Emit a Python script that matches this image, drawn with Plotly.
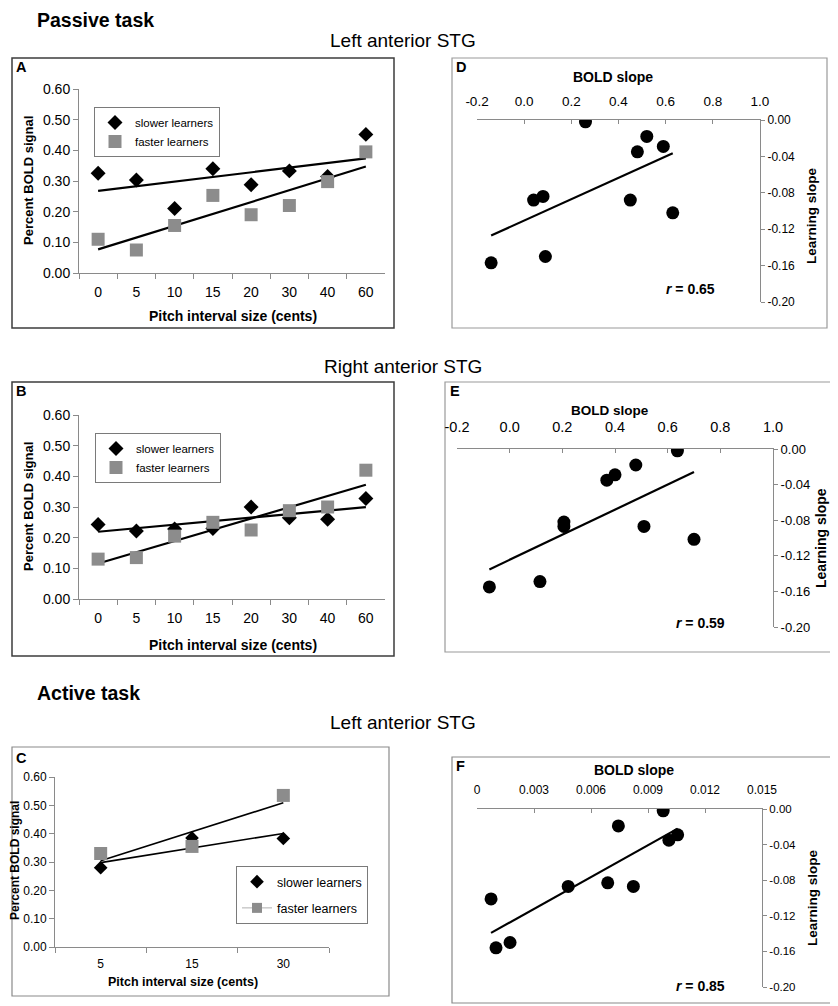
import numpy as np
import plotly.graph_objects as go

# The page body has an 8px default margin, so the figure is drawn at (8, 8).
OFF = 8
W, H = 830, 998
FONT = "Liberation Sans, Arial, sans-serif"
NARROW = "Liberation Sans Narrow, Arial Narrow, Liberation Sans, Arial, sans-serif"

# ---------------- data ----------------
cats_ab = ["0", "5", "10", "15", "20", "30", "40", "60"]
a_slower = [0.325, 0.303, 0.21, 0.34, 0.288, 0.333, 0.315, 0.452]
a_faster = [0.11, 0.075, 0.155, 0.253, 0.19, 0.22, 0.298, 0.395]
b_slower = [0.243, 0.222, 0.228, 0.23, 0.30, 0.265, 0.26, 0.328]
b_faster = [0.13, 0.135, 0.205, 0.25, 0.225, 0.288, 0.30, 0.42]

cats_c = ["5", "15", "30"]
c_slower = [0.28, 0.385, 0.383]
c_faster = [0.33, 0.355, 0.535]

d_bold = [0.26, 0.52, 0.59, 0.48, 0.04, 0.08, 0.45, 0.63, -0.14, 0.09]
d_learn = [-0.002, -0.018, -0.029, -0.035, -0.088, -0.084, -0.088, -0.102, -0.157, -0.150]
e_bold = [-0.077, 0.115, 0.206, 0.206, 0.369, 0.40, 0.479, 0.637, 0.51, 0.70]
e_learn = [-0.155, -0.149, -0.082, -0.087, -0.035, -0.029, -0.018, -0.002, -0.087, -0.1015]
f_bold = [0.00074, 0.0010, 0.00174, 0.0048, 0.00688, 0.00823, 0.00744, 0.0098, 0.0101, 0.01056]
f_learn = [-0.101, -0.156, -0.150, -0.087, -0.083, -0.087, -0.019, -0.002, -0.035, -0.029]

r_labels = ["0.65", "0.59", "0.85"]

pct_ticks = [0.0, 0.1, 0.2, 0.3, 0.4, 0.5, 0.6]
pct_ticktext = ["0.00", "0.10", "0.20", "0.30", "0.40", "0.50", "0.60"]
bold_ticks_de = [-0.2, 0.0, 0.2, 0.4, 0.6, 0.8, 1.0]
bold_ticktext_de = ["-0.2", "0.0", "0.2", "0.4", "0.6", "0.8", "1.0"]
bold_ticks_f = [0, 0.003, 0.006, 0.009, 0.012, 0.015]
bold_ticktext_f = ["0", "0.003", "0.006", "0.009", "0.012", "0.015"]
learn_ticks = [0.0, -0.04, -0.08, -0.12, -0.16, -0.20]
learn_ticktext = ["0.00", "-0.04", "-0.08", "-0.12", "-0.16", "-0.20"]

# ---------------- helpers ----------------
def px(x):
    return (x - OFF) / W

def py(y):
    return 1 - (y - OFF) / H

def fit_line(xs, ys):
    k, b = np.polyfit(np.asarray(xs, float), np.asarray(ys, float), 1)
    return k, b

fig = go.Figure()
layout = dict(
    width=W, height=H,
    margin=dict(l=0, r=0, t=0, b=0, pad=0, autoexpand=False),
    paper_bgcolor="white", plot_bgcolor="rgba(0,0,0,0)",
    font=dict(family=FONT, color="black"),
    shapes=[], annotations=[],
)

AXC = "#8a8a8a"
GRAY = "#8c8c8c"

# ----- panels A, B, C (category line/scatter plots) -----
cat_panels = [
    dict(i=1, cats=cats_ab, s=a_slower, f=a_faster, xd=(79, 385), yd=(89, 273),
         leg="legend", lpos=(94, 107), tfs=14, dsz=11.5, ssz=13, lw=2.2, lfs=11.5, gap=0,
         lline=False, sto=6),
    dict(i=2, cats=cats_ab, s=b_slower, f=b_faster, xd=(79, 385), yd=(415, 599),
         leg="legend2", lpos=(95, 433), tfs=14, dsz=11.5, ssz=13, lw=2.2, lfs=11.5, gap=0,
         lline=False, sto=6),
    dict(i=3, cats=cats_c, s=c_slower, f=c_faster, xd=(55, 329), yd=(777, 947),
         leg="legend3", lpos=(236, 866), tfs=12, dsz=10.5, ssz=13, lw=1.6, lfs=12.5, gap=7,
         lline=True, sto=6),
]

for p in cat_panels:
    i = p["i"]
    xa, ya = f"x{i}", f"y{i}"
    idx = np.arange(len(p["cats"]))
    series = [(p["s"], "diamond", "black", p["dsz"], "slower learners"),
              (p["f"], "square", GRAY, p["ssz"], "faster learners")]
    for vals, sym, col, sz, name in series:
        k, b = fit_line(idx, vals)
        fig.add_trace(go.Scatter(x=p["cats"], y=list(k * idx + b), mode="lines",
                                 line=dict(color="black", width=p["lw"]),
                                 xaxis=xa, yaxis=ya, showlegend=False, hoverinfo="skip"))
    for vals, sym, col, sz, name in series:
        show = not (p["lline"] and sym == "square")
        fig.add_trace(go.Scatter(x=p["cats"], y=vals, mode="markers", name=name,
                                 marker=dict(symbol=sym, color=col, size=sz),
                                 xaxis=xa, yaxis=ya, legend=p["leg"], legendgroup=f"{i}{sym}",
                                 showlegend=show))
    if p["lline"]:
        fig.add_trace(go.Scatter(x=[None], y=[None], mode="lines+markers", name="faster learners",
                                 marker=dict(symbol="square", color=GRAY, size=10),
                                 line=dict(color="#b0b0b0", width=1),
                                 xaxis=xa, yaxis=ya, legend=p["leg"], legendgroup=f"{i}dummy"))
    sfx = "" if i == 1 else str(i)
    layout["xaxis" + sfx] = dict(
        domain=[px(p["xd"][0]), px(p["xd"][1])], anchor=ya, type="category", automargin=False,
        range=[-0.5, len(p["cats"]) - 0.5], tickson="boundaries", ticks="outside", ticklen=5,
        tickcolor=AXC, showline=True, linecolor=AXC, linewidth=1, showgrid=False, zeroline=False,
        tickfont=dict(size=p["tfs"], family=FONT), ticklabelstandoff=p["sto"],
    )
    layout["yaxis" + sfx] = dict(
        domain=[py(p["yd"][1]), py(p["yd"][0])], anchor=xa, range=[0, 0.6], automargin=False,
        tickvals=pct_ticks, ticktext=pct_ticktext, ticks="outside", ticklen=5, tickcolor=AXC,
        showline=True, linecolor=AXC, linewidth=1, showgrid=False, zeroline=False,
        tickfont=dict(size=p["tfs"], family=FONT),
    )
    layout[p["leg"]] = dict(
        x=px(p["lpos"][0]), y=py(p["lpos"][1]), xanchor="left", yanchor="top",
        bordercolor="#7a7a7a", borderwidth=1, bgcolor="white",
        font=dict(size=p["lfs"], family=FONT), traceorder="grouped", tracegroupgap=p["gap"],
    )

# ----- panels D, E, F (scatter with regression) -----
sc_panels = [
    dict(i=4, x=d_bold, y=d_learn, xd=(477, 760), yd=(120, 302), xr=[-0.2, 1.0],
         xt=bold_ticks_de, xtt=bold_ticktext_de, tf=FONT, tfs=13.5, ytfs=12, sto=8),
    dict(i=5, x=e_bold, y=e_learn, xd=(457, 773), yd=(449, 627), xr=[-0.2, 1.0],
         xt=bold_ticks_de, xtt=bold_ticktext_de, tf=NARROW, tfs=14.5, ytfs=13, sto=10),
    dict(i=6, x=f_bold, y=f_learn, xd=(477, 762), yd=(809, 987), xr=[0, 0.015],
         xt=bold_ticks_f, xtt=bold_ticktext_f, tf=FONT, tfs=12, ytfs=11.5, sto=9),
]
for p in sc_panels:
    i = p["i"]
    xa, ya = f"x{i}", f"y{i}"
    k, b = fit_line(p["x"], p["y"])
    xs = np.array([min(p["x"]), max(p["x"])])
    fig.add_trace(go.Scatter(x=list(xs), y=list(k * xs + b), mode="lines",
                             line=dict(color="black", width=2.2), xaxis=xa, yaxis=ya,
                             showlegend=False, hoverinfo="skip"))
    fig.add_trace(go.Scatter(x=p["x"], y=p["y"], mode="markers",
                             marker=dict(symbol="circle", color="black", size=13),
                             xaxis=xa, yaxis=ya, showlegend=False))
    layout[f"xaxis{i}"] = dict(
        domain=[px(p["xd"][0]), px(p["xd"][1])], anchor=ya, side="top", range=p["xr"],
        tickvals=p["xt"], ticktext=p["xtt"], ticks="inside", ticklen=4, tickcolor=AXC,
        showline=True, linecolor=AXC, linewidth=1, showgrid=False, zeroline=False,
        automargin=False, tickfont=dict(size=p["tfs"], family=p["tf"]),
        ticklabelstandoff=p["sto"],
    )
    layout[f"yaxis{i}"] = dict(
        domain=[py(p["yd"][1]), py(p["yd"][0])], anchor=xa, side="right", range=[-0.2, 0.0],
        tickvals=learn_ticks, ticktext=learn_ticktext, ticks="outside", ticklen=4, tickcolor=AXC,
        showline=True, linecolor=AXC, linewidth=1, showgrid=False, zeroline=False,
        automargin=False, tickfont=dict(size=p["ytfs"], family=p["tf"]),
    )

# ----- panel boxes -----
boxes = [
    ((12, 58, 394, 328), "#3c3c3c", 1.5),
    ((12, 382, 394, 656), "#3c3c3c", 1.5),
    ((12, 747, 389, 996), "#8a8a8a", 1.2),
    ((452, 58, 827, 328), "#9a9a9a", 1.2),
    ((445, 382, 833, 652), "#9a9a9a", 1.2),
    ((452, 757, 835, 1003), "#8a8a8a", 1.2),
]
for (x0, y0, x1, y1), c, w in boxes:
    layout["shapes"].append(dict(type="rect", xref="paper", yref="paper",
                                 x0=px(x0), x1=px(x1), y0=py(y1), y1=py(y0),
                                 line=dict(color=c, width=w), layer="below"))

def ann(text, x, y, size, bold=False, angle=0, xanchor="center", family=FONT):
    t = f"<b>{text}</b>" if bold else text
    layout["annotations"].append(dict(text=t, x=px(x), y=py(y), xref="paper", yref="paper",
                                      showarrow=False, xanchor=xanchor, yanchor="middle",
                                      textangle=angle, font=dict(size=size, family=family, color="black")))

# headers
ann("Passive task", 35, 20, 19.5, bold=True, xanchor="left")
ann("Left anterior STG", 403, 41, 19)
ann("Right anterior STG", 403, 366, 19)
ann("Active task", 35, 693, 19.5, bold=True, xanchor="left")
ann("Left anterior STG", 403, 722, 19)

# panel letters
for letter, x, y in [("A", 14, 67), ("B", 14, 391), ("C", 14, 758),
                     ("D", 454, 67), ("E", 448, 391), ("F", 454, 766)]:
    ann(letter, x, y, 14.5, bold=True, xanchor="left")

# axis titles for A, B, C
ann("Percent BOLD signal", 28, 181, 13, bold=True, angle=-90)
ann("Pitch interval size (cents)", 233, 316, 14, bold=True)
ann("Percent BOLD signal", 28, 507, 13, bold=True, angle=-90)
ann("Pitch interval size (cents)", 233, 645, 14, bold=True)
ann("Percent BOLD signal", 15, 861, 12, bold=True, angle=-90)
ann("Pitch interval size (cents)", 183, 982, 12.5, bold=True)

# axis titles for D, E, F
ann("BOLD slope", 613, 77, 14, bold=True)
ann("Learning slope", 811, 216, 13.5, bold=True, angle=-90)
ann("BOLD slope", 610, 410, 13.5, bold=True, family=NARROW)
ann("Learning slope", 821, 538, 14, bold=True, angle=-90)
ann("BOLD slope", 634, 770, 14, bold=True)
ann("Learning slope", 812, 898, 13.5, bold=True, angle=-90)

# r values
for lab, x, y in zip(r_labels, [690, 700, 700], [289, 623, 986]):
    ann(f"<i>r</i> = {lab}", x, y, 14, bold=True)

fig.update_layout(**layout)
fig.write_html("out.html")
